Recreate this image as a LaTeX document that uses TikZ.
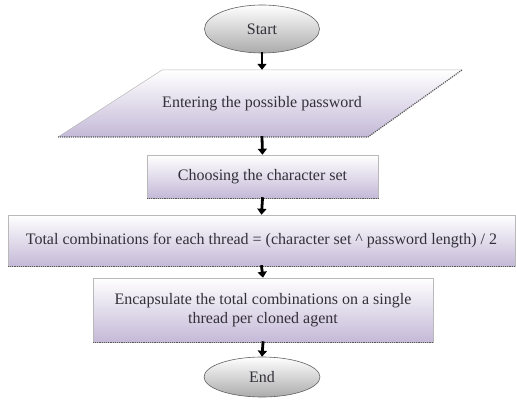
\documentclass[tikz,border=0pt]{standalone}
\usepackage{fontspec}
\setmainfont{Liberation Serif}
\usetikzlibrary{shapes.geometric,arrows.meta}
\definecolor{lav}{HTML}{C4B9D7}
\definecolor{ink}{HTML}{333039}
\begin{document}
\begin{tikzpicture}[x=1pt,y=-1pt,
  every node/.style={font=\fontsize{16}{19}\selectfont, text=ink},
  terminal/.style={ellipse, draw=gray!75!black, line width=0.6pt,
    top color=white, bottom color=gray!66, inner sep=0pt},
  procbox/.style={rectangle, draw=gray!55, line width=0.5pt,
    top color=white, bottom color=lav, inner sep=2pt, align=center},
  flow/.style={line width=2.8pt, draw=black,
    -{Triangle[width=9pt,length=6pt]}, shorten <=-1pt},
  shadowedge/.style={densely dotted, line width=1.2pt, draw=gray!70!black}
]
\useasboundingbox (0,0) rectangle (516,406);

% start / end terminals
\node[terminal, minimum width=115, minimum height=48] (start) at (262,29) {Start};
\node[terminal, minimum width=116, minimum height=40] (stop) at (262,377) {End};

% input parallelogram
\shade[top color=white, bottom color=lav] (162,70) -- (462,70) -- (368,137) -- (58,137) -- cycle;
\draw[gray!55, line width=0.5pt] (58,137) -- (162,70) -- (462,70);
\draw[shadowedge] (462,70) -- (368,137) -- (58,137);
\node[minimum width=300, minimum height=67] (input) at (262,103.5) {Entering the possible password};

% process boxes
\node[procbox, minimum width=231, minimum height=43] (charset) at (262.5,176.5) {Choosing the character set};
\draw[shadowedge] (charset.south west) -- (charset.south east);

\node[procbox, minimum width=507, minimum height=51] (total) at (261.5,240.5)
  {Total combinations for each thread = (character set \^{} password length) / 2};
\draw[shadowedge] (total.south west) -- (total.south east);

\node[procbox, minimum width=340, minimum height=64] (encap) at (263,310)
  {Encapsulate the total combinations on a single\\thread per cloned agent};
\draw[shadowedge] (encap.south west) -- (encap.south east);

% connectors
\draw[flow] (start.south) -- (input.north);
\draw[flow] (input.south) -- (charset.north);
\draw[flow] (charset.south) -- (total.north);
\draw[flow] (total.south) -- (encap.north);
\draw[flow] (encap.south) -- (stop.north);
\end{tikzpicture}
\end{document}
